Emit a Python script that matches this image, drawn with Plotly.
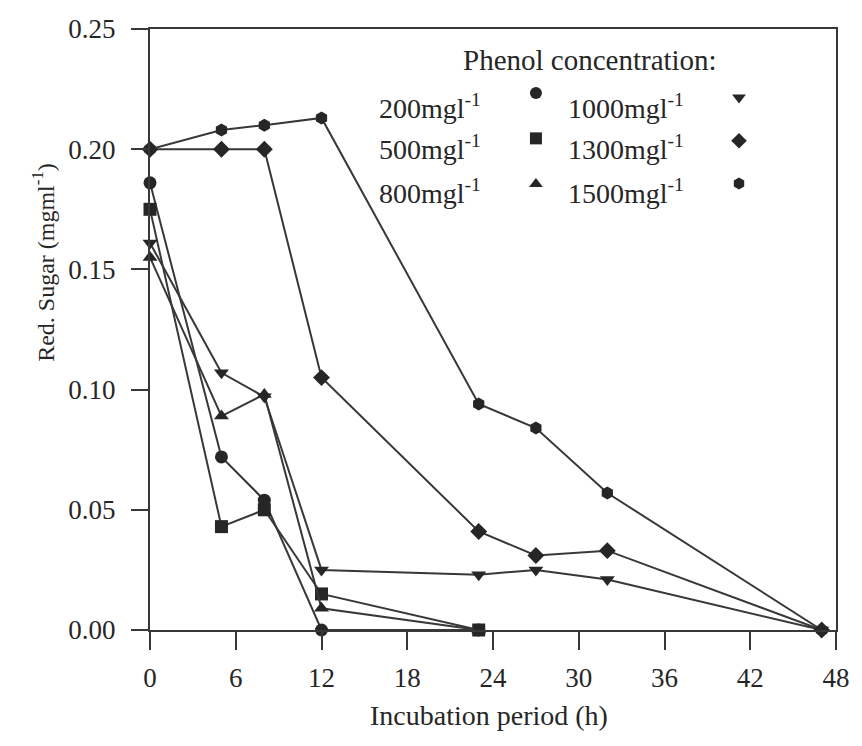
import plotly.graph_objects as go

# ---- data ----
t_short = [0, 5, 8, 12, 23]
t_long = [0, 5, 8, 12, 23, 27, 32, 47]

s200 = [0.186, 0.072, 0.054, 0.000, 0.000]
s500 = [0.175, 0.043, 0.050, 0.015, 0.000]
s800 = [0.155, 0.089, 0.098, 0.009, 0.000]
s1000 = [0.161, 0.107, 0.097, 0.025, 0.023, 0.025, 0.021, 0.000]
s1300 = [0.200, 0.200, 0.200, 0.105, 0.041, 0.031, 0.033, 0.000]
s1500 = [0.200, 0.208, 0.210, 0.213, 0.094, 0.084, 0.057, 0.000]

labels = ["200mgl<sup>-1</sup>", "500mgl<sup>-1</sup>", "800mgl<sup>-1</sup>",
          "1000mgl<sup>-1</sup>", "1300mgl<sup>-1</sup>", "1500mgl<sup>-1</sup>"]
symbols = ["circle", "square", "triangle-up", "triangle-down", "diamond", "hexagon"]

x_ticks = [0, 6, 12, 18, 24, 30, 36, 42, 48]
y_ticks = [0.00, 0.05, 0.10, 0.15, 0.20, 0.25]
y_tick_text = ["0.00", "0.05", "0.10", "0.15", "0.20", "0.25"]

series = [(t_short, s200), (t_short, s500), (t_short, s800),
          (t_long, s1000), (t_long, s1300), (t_long, s1500)]

FONT = "Liberation Serif"
INK = "#262626"
LINE = "#383838"
FS = 27

fig = go.Figure()
for (tx, ty), sym, lab in zip(series, symbols, labels):
    fig.add_trace(go.Scatter(
        x=tx, y=ty, mode="lines+markers", name=lab,
        line=dict(color=LINE, width=2),
        marker=dict(symbol=sym, size=13, color=INK, line=dict(width=0)),
        cliponaxis=False, showlegend=False))

# ---- custom legend (text left, marker right) ----
leg_text_x = [0.331, 0.331, 0.331, 0.607, 0.607, 0.607]
leg_text_y = [0.871, 0.802, 0.730, 0.871, 0.802, 0.730]
leg_mark_x = [0.5626, 0.5626, 0.5626, 0.8586, 0.8586, 0.8586]
leg_mark_y = [0.8935, 0.818, 0.742, 0.886, 0.814, 0.743]

fig.add_trace(go.Scatter(
    x=leg_mark_x, y=leg_mark_y, xaxis="x2", yaxis="y2", mode="markers",
    marker=dict(symbol=symbols, size=12, color=INK, line=dict(width=0)),
    showlegend=False, hoverinfo="skip", cliponaxis=False))

annotations = [dict(text="Phenol concentration:", x=0.642, y=0.948, xref="paper", yref="paper",
                    showarrow=False, xanchor="center", yanchor="middle",
                    font=dict(family=FONT, size=29, color=INK))]
for lab, lx, ly in zip(labels, leg_text_x, leg_text_y):
    annotations.append(dict(text=lab, x=lx, y=ly, xref="paper", yref="paper",
                            showarrow=False, xanchor="left", yanchor="middle",
                            font=dict(family=FONT, size=28, color=INK)))
annotations.append(dict(text="Red. Sugar (mgml<sup>-1</sup>)", x=-0.155, y=0.612,
                        xref="paper", yref="paper", showarrow=False, textangle=-90,
                        xanchor="center", yanchor="middle",
                        font=dict(family=FONT, size=24, color=INK)))
annotations.append(dict(text="Incubation period (h)", x=0.4935, y=-0.142,
                        xref="paper", yref="paper", showarrow=False,
                        xanchor="center", yanchor="middle",
                        font=dict(family=FONT, size=28, color=INK)))

axis_common = dict(showline=True, linecolor=LINE, linewidth=2, mirror=True,
                   ticks="outside", tickcolor=LINE, tickwidth=2,
                   showgrid=False, zeroline=False,
                   tickfont=dict(family=FONT, size=FS, color=INK))

fig.update_layout(
    width=862, height=746,
    margin=dict(l=150, r=17, t=29, b=116),
    paper_bgcolor="white", plot_bgcolor="white",
    xaxis=dict(range=[0, 48], tickvals=x_ticks, ticklen=18, ticklabelstandoff=5,
               **axis_common),
    yaxis=dict(range=[0, 0.25], tickvals=y_ticks, ticktext=y_tick_text, ticklen=17,
               ticklabelstandoff=10, **axis_common),
    xaxis2=dict(range=[0, 1], overlaying="x", visible=False, fixedrange=True),
    yaxis2=dict(range=[0, 1], overlaying="y", visible=False, fixedrange=True),
    annotations=annotations,
    showlegend=False,
)

fig.write_html("out.html")
